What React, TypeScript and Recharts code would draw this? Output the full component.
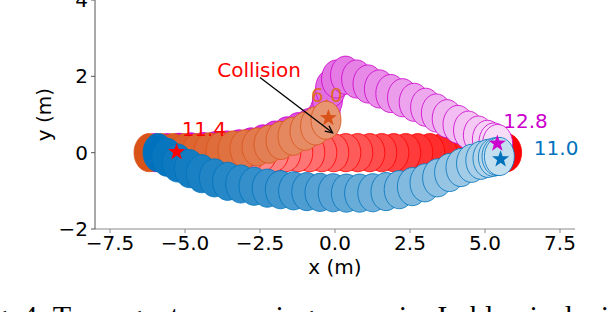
import { Scatter, ScatterChart, XAxis, YAxis } from "recharts";

// trajectories, one circle every 0.4 s
const blueX = [-5.9, -5.6, -5.25, -4.85, -4.45, -4.02, -3.58, -3.14, -2.7, -2.26, -1.82, -1.38, -0.94, -0.5, -0.06, 0.38, 0.82, 1.26, 1.7, 2.14, 2.58, 3.0, 3.42, 3.82, 4.2, 4.55, 4.86, 5.1, 5.28, 5.4, 5.48];
const blueY = [0.0, -0.12, -0.27, -0.42, -0.55, -0.66, -0.75, -0.82, -0.88, -0.93, -0.97, -1.0, -1.02, -1.04, -1.05, -1.06, -1.06, -1.05, -1.02, -0.97, -0.89, -0.79, -0.66, -0.52, -0.39, -0.28, -0.2, -0.15, -0.12, -0.1, -0.1];

const redX = [5.72, 5.45, 5.12, 4.75, 4.36, 3.96, 3.56, 3.16, 2.76, 2.36, 1.96, 1.56, 1.16, 0.76, 0.36, -0.04, -0.44, -0.84, -1.24, -1.64, -2.04, -2.44, -2.84, -3.24, -3.64, -4.04, -4.44, -4.84, -5.24];
const redY = [0.0, 0.0, 0.0, 0.0, 0.0, 0.0, 0.0, 0.0, 0.0, 0.0, 0.0, 0.0, 0.0, 0.0, 0.0, 0.0, 0.0, 0.0, 0.0, 0.0, 0.0, 0.0, 0.0, 0.0, 0.0, 0.0, 0.0, 0.0, 0.0];

const orangeX = [-6.2, -5.8, -5.4, -5.0, -4.6, -4.2, -3.8, -3.4, -3.0, -2.6, -2.2, -1.8, -1.4, -1.0, -0.65, -0.3];
const orangeY = [0.0, 0.0, 0.0, 0.0, 0.0, 0.02, 0.04, 0.07, 0.1, 0.15, 0.22, 0.32, 0.43, 0.56, 0.7, 0.85];

const magentaX = [-6.0, -5.6, -5.2, -4.8, -4.4, -4.0, -3.6, -3.2, -2.8, -2.4, -2.0, -1.6, -1.22, -0.85, -0.52, -0.33, -0.25, -0.15, 0.05, 0.35, 0.72, 1.1, 1.48, 1.86, 2.25, 2.64, 3.02, 3.38, 3.74, 4.1, 4.45, 4.78, 5.08, 5.3, 5.42];
const magentaY = [0.0, 0.0, 0.01, 0.02, 0.03, 0.05, 0.07, 0.1, 0.15, 0.23, 0.33, 0.44, 0.55, 0.66, 0.82, 1.08, 1.38, 1.68, 1.93, 2.03, 1.93, 1.8, 1.67, 1.55, 1.44, 1.32, 1.19, 1.04, 0.89, 0.74, 0.59, 0.46, 0.35, 0.28, 0.24];

const stars = [
  { x: -5.28, y: 0.02, color: "#ff0000" },
  { x: -0.22, y: 0.91, color: "#d95319" },
  { x: 5.41, y: 0.24, color: "#cc00cc" },
  { x: 5.52, y: -0.17, color: "#0072bd" },
];

const labels = [
  { x: -4.37, y: 0.62, text: "11.4", color: "#ff0000" },
  { x: -0.27, y: 1.51, text: "6.0", color: "#dd6a2a" },
  { x: 6.35, y: 0.83, text: "12.8", color: "#cc00cc" },
  { x: 7.37, y: 0.14, text: "11.0", color: "#0072bd" },
  { x: -2.53, y: 2.18, text: "Collision", color: "#ff0000" },
];

const arrowFrom = { x: -2.5, y: 1.97 };
const arrowTo = { x: -0.08, y: 0.52 };

const xTicks = [-7.5, -5, -2.5, 0, 2.5, 5, 7.5];
const yTicks = [-2, 0, 2, 4];

const W = 612;
const H = 312;
const LEFT = 95;
const RIGHT = 37;
const BOTTOM = 83;
const PX_X = (W - LEFT - RIGHT) / 16;
const PX_Y = (H - BOTTOM) / 6;
const RADIUS = 0.5;
const FONT = "DejaVu Sans";

function hexToRgb(hex: string) {
  const n = parseInt(hex.slice(1), 16);
  return [(n >> 16) & 255, (n >> 8) & 255, n & 255];
}

function lighten(hex: string, mix: number) {
  const [r, g, b] = hexToRgb(hex);
  const f = (c: number) => Math.round(c + (255 - c) * mix);
  return `rgb(${f(r)},${f(g)},${f(b)})`;
}

function track(xs: number[], ys: number[], base: string) {
  return xs.map((x, i) => ({
    x,
    y: ys[i],
    fill: lighten(base, i * 0.0255),
    stroke: base,
  }));
}

const redData = track(redX, redY, "#ff0000");
const magentaData = track(magentaX, magentaY, "#cc00cc");
const orangeData = track(orangeX, orangeY, "#d95319");
const blueData = track(blueX, blueY, "#0072bd");
const arrowData = [
  { ...arrowFrom, head: false },
  { ...arrowTo, head: true },
];

function Disc(props: any) {
  const { cx, cy, payload } = props;
  return (
    <ellipse
      cx={cx}
      cy={cy}
      rx={RADIUS * PX_X}
      ry={RADIUS * PX_Y}
      fill={payload.fill}
      stroke={payload.stroke}
      strokeWidth={0.8}
    />
  );
}

function Star(props: any) {
  const { cx, cy, payload } = props;
  const R = 9;
  const r = R * 0.4;
  const pts: string[] = [];
  for (let k = 0; k < 10; k++) {
    const a = -Math.PI / 2 + (k * Math.PI) / 5;
    const rad = k % 2 === 0 ? R : r;
    pts.push(`${cx + rad * Math.cos(a)},${cy + rad * Math.sin(a)}`);
  }
  return <polygon points={pts.join(" ")} fill={payload.color} />;
}

function TextMark(props: any) {
  const { cx, cy, payload } = props;
  return (
    <text
      x={cx}
      y={cy}
      dy="0.36em"
      textAnchor="middle"
      fill={payload.color}
      fontSize={20}
      fontFamily={FONT}
    >
      {payload.text}
    </text>
  );
}

// open "->" head at the end point of the arrow line
function ArrowHead(props: any) {
  const { cx, cy, payload } = props;
  if (!payload.head) return <g />;
  const ang = Math.atan2(
    -(arrowTo.y - arrowFrom.y) * PX_Y,
    (arrowTo.x - arrowFrom.x) * PX_X
  );
  const len = 8;
  const spread = 0.45;
  const ax = cx - len * Math.cos(ang - spread);
  const ay = cy - len * Math.sin(ang - spread);
  const bx = cx - len * Math.cos(ang + spread);
  const by = cy - len * Math.sin(ang + spread);
  return (
    <polyline
      points={`${ax},${ay} ${cx},${cy} ${bx},${by}`}
      fill="none"
      stroke="#000"
      strokeWidth={1.3}
    />
  );
}

const minus = (s: string) => s.replace("-", "\u2212");

function XLabel(props: any) {
  const vb = props.viewBox;
  return (
    <text
      x={vb.x + vb.width / 2}
      y={vb.y + 45}
      textAnchor="middle"
      fontSize={20}
      fontFamily={FONT}
      fill="#000"
    >
      x (m)
    </text>
  );
}

function YLabel(props: any) {
  const vb = props.viewBox;
  const cy = vb.y + vb.height / 2;
  return (
    <text
      x={51}
      y={cy}
      transform={`rotate(-90, 51, ${cy})`}
      textAnchor="middle"
      fontSize={20}
      fontFamily={FONT}
      fill="#000"
    >
      y (m)
    </text>
  );
}

export default function App() {
  return (
    <div
      style={{
        position: "absolute",
        top: 0,
        left: 0,
        width: W,
        height: H,
        background: "#fff",
        overflow: "hidden",
      }}
    >
      <ScatterChart
        width={W}
        height={H}
        margin={{ top: 0, right: RIGHT, bottom: 0, left: 0 }}
      >
        <XAxis
          type="number"
          dataKey="x"
          domain={[-8, 8]}
          ticks={xTicks}
          interval={0}
          height={BOTTOM}
          tickSize={4}
          tickMargin={3}
          tickFormatter={(v: number) => minus(v.toFixed(1))}
          tick={{ fontSize: 20, fill: "#000", fontFamily: FONT }}
          axisLine={{ stroke: "#8a8a8a", strokeWidth: 1.2 }}
          tickLine={{ stroke: "#8a8a8a" }}
          label={{ content: XLabel }}
        />
        <YAxis
          type="number"
          dataKey="y"
          domain={[-2, 4]}
          ticks={yTicks}
          interval={0}
          width={LEFT}
          tickSize={4}
          tickMargin={3}
          tickFormatter={(v: number) => minus(String(v))}
          tick={{ fontSize: 20, fill: "#000", fontFamily: FONT }}
          axisLine={{ stroke: "#555" }}
          tickLine={{ stroke: "#555" }}
          label={{ content: YLabel }}
        />
        <Scatter data={redData} shape={Disc} isAnimationActive={false} />
        <Scatter data={magentaData} shape={Disc} isAnimationActive={false} />
        <Scatter data={orangeData} shape={Disc} isAnimationActive={false} />
        <Scatter data={blueData} shape={Disc} isAnimationActive={false} />
        <Scatter data={stars} shape={Star} isAnimationActive={false} />
        <Scatter data={labels} shape={TextMark} isAnimationActive={false} />
        <Scatter
          data={arrowData}
          shape={ArrowHead}
          line={{ stroke: "#000", strokeWidth: 1.3 }}
          isAnimationActive={false}
        />
      </ScatterChart>
      <svg
        width={W}
        height={H}
        style={{ position: "absolute", top: 0, left: 0, pointerEvents: "none" }}
      >
        <text
          x={-33}
          y={326}
          fontSize={30.2}
          fontFamily="Liberation Serif"
          fill="#000"
        >
          Fig. 4: Two agents swapping scenario. In blue is depicted
        </text>
      </svg>
    </div>
  );
}
